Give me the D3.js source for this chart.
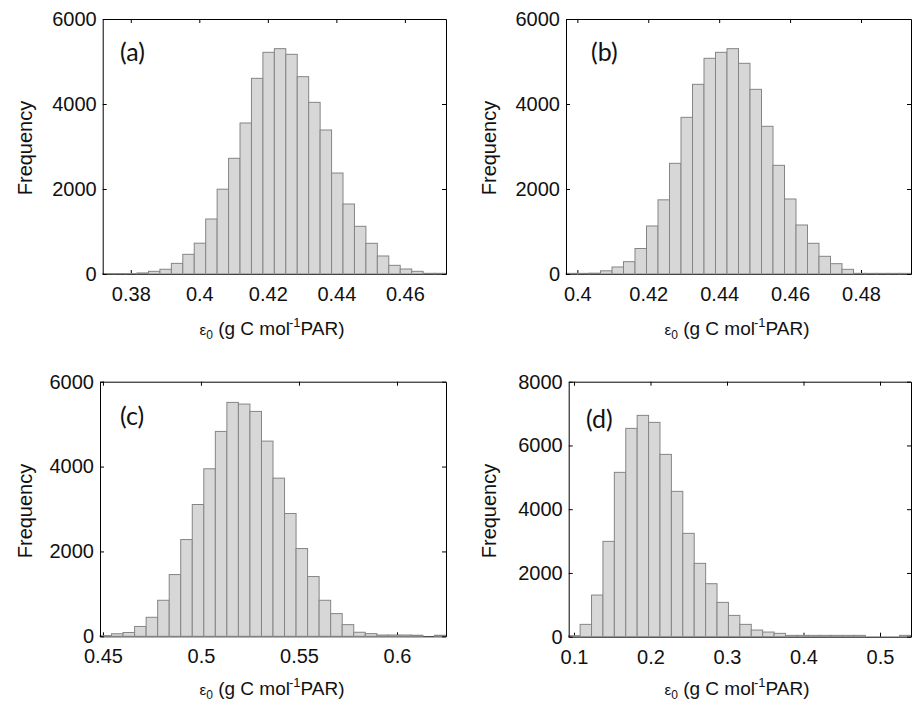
<!DOCTYPE html>
<html>
<head>
<meta charset="utf-8">
<script src="https://cdn.jsdelivr.net/npm/d3@7"></script>
<style>
  html, body { margin: 0; padding: 0; background: #fff; }
  svg { display: block; }
  text { font-family: "Liberation Sans", Arial, Helvetica, sans-serif; fill: #111; }
</style>
</head>
<body>
<svg id="chart" width="912" height="704"></svg>
<script>
// ---------------- DATA ----------------
const panelLabels = ["(a)", "(b)", "(c)", "(d)"];

// histogram x-range (30 equal bins spanning this range)
const rangeA = [0.3718, 0.4720];
const rangeB = [0.3968, 0.4941];
const rangeC = [0.4485, 0.6250];
const rangeD = [0.0931, 0.5405];

// frequency per bin (30 bins)
const countsA = [10, 10, 10, 25, 63, 112, 250, 463, 725, 1294, 1995, 2722, 3553, 4604, 5216,
                 5302, 5169, 4643, 4039, 3388, 2376, 1647, 1122, 722, 424, 204, 118, 63, 16, 16];
const countsB = [15, 15, 20, 75, 165, 290, 600, 1130, 1745, 2604, 3686, 4463, 5075, 5216, 5302,
                 4957, 4345, 3475, 2557, 1765, 1153, 722, 416, 243, 110, 16, 15, 15, 15, 15];
const countsC = [16, 60, 90, 232, 448, 849, 1455, 2280, 3106, 3948, 4828, 5512, 5473, 5300, 4600,
                 3727, 2894, 2068, 1408, 849, 535, 275, 95, 63, 30, 30, 30, 25, 0, 25];
const countsD = [31, 387, 1307, 2991, 5156, 6536, 6944, 6724, 5720, 4560, 3242, 2301, 1663, 1077, 669,
                 387, 209, 146, 105, 42, 42, 42, 42, 42, 42, 42, 0, 0, 0, 42];

const xTicksA = [0.38, 0.40, 0.42, 0.44, 0.46];
const xTicksB = [0.40, 0.42, 0.44, 0.46, 0.48];
const xTicksC = [0.45, 0.50, 0.55, 0.60];
const xTicksD = [0.1, 0.2, 0.3, 0.4, 0.5];

const yMaxABC = 6000;
const yMaxD = 8000;
const yTicksABC = [0, 2000, 4000, 6000];
const yTicksD = [0, 2000, 4000, 6000, 8000];

const yTitle = "Frequency";

// ---------------- LAYOUT ----------------
const layout = [
  { l: 102.7, r: 446, t: 19,    b: 274,   ylx: 32,  yly: 148, xlx: 272, xly: 335, lx: 120, ly: 61 },
  { l: 566,   r: 911, t: 19,    b: 274,   ylx: 496, yly: 148, xlx: 737, xly: 335, lx: 591, ly: 61 },
  { l: 100,   r: 446, t: 381.7, b: 636.3, ylx: 32,  yly: 511, xlx: 272, xly: 695, lx: 120, ly: 425 },
  { l: 568.7, r: 911, t: 381.7, b: 636.7, ylx: 496, yly: 511, xlx: 737, xly: 695, lx: 586, ly: 428 }
];

const panels = [
  { label: panelLabels[0], range: rangeA, counts: countsA, xTicks: xTicksA, yMax: yMaxABC, yTicks: yTicksABC },
  { label: panelLabels[1], range: rangeB, counts: countsB, xTicks: xTicksB, yMax: yMaxABC, yTicks: yTicksABC },
  { label: panelLabels[2], range: rangeC, counts: countsC, xTicks: xTicksC, yMax: yMaxABC, yTicks: yTicksABC },
  { label: panelLabels[3], range: rangeD, counts: countsD, xTicks: xTicksD, yMax: yMaxD,   yTicks: yTicksD }
];

const svg = d3.select("#chart");
const fmt = d => String(+d.toFixed(2));

panels.forEach((p, i) => {
  const L = layout[i];
  const x = d3.scaleLinear().domain(p.range).range([L.l, L.r]);
  const y = d3.scaleLinear().domain([0, p.yMax]).range([L.b, L.t]);
  const g = svg.append("g");

  const n = p.counts.length;
  const bw = (p.range[1] - p.range[0]) / n;
  const bins = p.counts.map((c, k) => ({ x0: p.range[0] + k * bw, x1: p.range[0] + (k + 1) * bw, c }));

  // bottom axis (drawn under the bars)
  const xb = g.append("g").attr("transform", `translate(0,${L.b})`)
    .call(d3.axisBottom(x).tickValues(p.xTicks).tickFormat(fmt).tickSizeInner(-4).tickSizeOuter(0).tickPadding(13));
  xb.selectAll("text").attr("font-size", 20).style("font-family", "'Liberation Sans', Arial, sans-serif").attr("fill", "#111");
  xb.selectAll("line, path").attr("stroke", "#000");

  // bars
  g.append("g").selectAll("rect").data(bins).join("rect")
    .attr("x", d => x(d.x0))
    .attr("width", d => x(d.x1) - x(d.x0))
    .attr("y", d => y(d.c))
    .attr("height", d => y(0) - y(d.c))
    .attr("fill", "#d7d7d7")
    .attr("stroke", "#858585")
    .attr("stroke-width", 1);

  // left axis
  const yl = g.append("g").attr("transform", `translate(${L.l},0)`)
    .call(d3.axisLeft(y).tickValues(p.yTicks).tickFormat(d3.format("d")).tickSizeInner(-4).tickSizeOuter(0).tickPadding(6));
  yl.selectAll("text").attr("font-size", 20).style("font-family", "'Liberation Sans', Arial, sans-serif").attr("fill", "#111");
  yl.selectAll("line, path").attr("stroke", "#000");

  // top axis
  const xt = g.append("g").attr("transform", `translate(0,${L.t})`)
    .call(d3.axisTop(x).tickValues(p.xTicks).tickFormat("").tickSizeInner(-4).tickSizeOuter(0));
  xt.selectAll("line, path").attr("stroke", "#000");

  // right axis
  const yr = g.append("g").attr("transform", `translate(${L.r},0)`)
    .call(d3.axisRight(y).tickValues(p.yTicks).tickFormat("").tickSizeInner(-4).tickSizeOuter(0));
  yr.selectAll("line, path").attr("stroke", "#000");

  // y title
  g.append("text")
    .attr("transform", `translate(${L.ylx},${L.yly}) rotate(-90)`)
    .attr("text-anchor", "middle")
    .attr("font-size", 20)
    .text(yTitle);

  // x title: ε0 (g C mol-1 PAR)
  const xt2 = g.append("text")
    .attr("x", L.xlx).attr("y", L.xly)
    .attr("text-anchor", "middle")
    .attr("font-size", 19);
  xt2.append("tspan").attr("font-size", 15).text("ε");
  xt2.append("tspan").attr("font-size", 12).attr("dy", 4).text("0");
  xt2.append("tspan").attr("dy", -4).text(" (g C mol");
  xt2.append("tspan").attr("font-size", 13).attr("dy", -8).attr("dx", -1).text("-1");
  xt2.append("tspan").attr("dy", 8).text("PAR)");

  // panel letter
  g.append("text")
    .attr("x", L.lx).attr("y", L.ly)
    .attr("font-size", 25)
    .style("font-family", "Lato, 'Open Sans', sans-serif")
    .text(p.label);
});
</script>
</body>
</html>
